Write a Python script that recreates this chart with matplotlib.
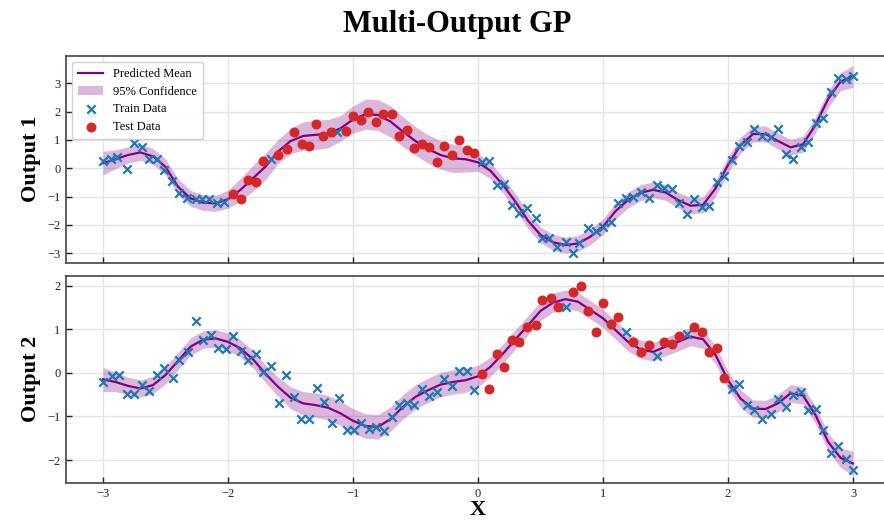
import numpy as np
import matplotlib
matplotlib.use("Agg")
import matplotlib.pyplot as plt

plt.rcParams['font.family'] = ['Liberation Serif', 'DejaVu Serif']

# grid used for the predicted mean / band (every 0.1)
x_grid = np.round(np.arange(-3.0, 3.0001, 0.1), 2)

mean_1 = [0.18, 0.32, 0.47, 0.56, 0.42, 0.05, -0.65, -1.06, -1.21, -1.24,
          -1.09, -0.76, -0.35, 0.06, 0.59, 0.96, 1.14, 1.18, 1.22, 1.41,
          1.72, 1.91, 1.88, 1.65, 1.29, 0.96, 0.68, 0.47, 0.35, 0.32,
          0.21, -0.09, -0.59, -1.18, -1.85, -2.35, -2.61, -2.71, -2.65, -2.41,
          -2.06, -1.51, -1.12, -0.86, -0.76, -0.85, -1.12, -1.32, -1.29, -0.71,
          0.12, 0.82, 1.21, 1.21, 0.96, 0.74, 0.85, 1.53, 2.44, 3.06,
          3.24]
band_1 = [0.42, 0.33, 0.29, 0.28, 0.28, 0.28, 0.28, 0.28, 0.28, 0.28,
          0.32, 0.40, 0.46, 0.47, 0.42, 0.45, 0.50, 0.52, 0.50, 0.45,
          0.48, 0.53, 0.55, 0.55, 0.53, 0.50, 0.50, 0.50, 0.50, 0.45,
          0.32, 0.28, 0.28, 0.28, 0.28, 0.28, 0.28, 0.28, 0.28, 0.28,
          0.28, 0.28, 0.28, 0.28, 0.28, 0.28, 0.28, 0.28, 0.28, 0.28,
          0.28, 0.28, 0.28, 0.28, 0.28, 0.28, 0.28, 0.28, 0.30, 0.32,
          0.38]

mean_2 = [-0.15, -0.21, -0.30, -0.36, -0.28, -0.05, 0.27, 0.60, 0.76, 0.79,
          0.71, 0.56, 0.31, -0.02, -0.32, -0.57, -0.70, -0.74, -0.80, -0.93,
          -1.10, -1.22, -1.24, -1.06, -0.78, -0.55, -0.40, -0.27, -0.21, -0.17,
          -0.08, 0.14, 0.44, 0.77, 1.09, 1.42, 1.61, 1.69, 1.63, 1.44,
          1.25, 0.98, 0.71, 0.54, 0.48, 0.60, 0.71, 0.83, 0.77, 0.41,
          -0.17, -0.59, -0.82, -0.83, -0.70, -0.47, -0.52, -0.97, -1.58, -1.95,
          -2.08]
band_2 = [0.28, 0.22, 0.20, 0.20, 0.20, 0.20, 0.20, 0.20, 0.20, 0.20,
          0.20, 0.20, 0.20, 0.20, 0.22, 0.25, 0.27, 0.28, 0.28, 0.28,
          0.28, 0.28, 0.28, 0.28, 0.28, 0.28, 0.28, 0.28, 0.28, 0.28,
          0.25, 0.22, 0.22, 0.22, 0.22, 0.22, 0.22, 0.21, 0.21, 0.21,
          0.21, 0.21, 0.21, 0.21, 0.21, 0.21, 0.21, 0.21, 0.21, 0.21,
          0.20, 0.20, 0.20, 0.20, 0.20, 0.20, 0.20, 0.20, 0.20, 0.22,
          0.28]

# Output 1 observations
train_x1 = [-3.0, -2.94, -2.89, -2.81, -2.75, -2.69, -2.63, -2.57, -2.51, -2.45,
            -2.39, -2.33, -2.26, -2.21, -2.15, -2.09, -2.03, -1.66, -1.13,
            0.03, 0.09, 0.15, 0.21, 0.27, 0.33, 0.39, 0.46, 0.51, 0.57,
            0.63, 0.70, 0.76, 0.81, 0.88, 0.94, 1.0, 1.06, 1.12, 1.18,
            1.24, 1.30, 1.37, 1.43, 1.49, 1.55, 1.61, 1.67, 1.73, 1.79,
            1.85, 1.91, 1.97, 2.03, 2.09, 2.15, 2.21, 2.27, 2.34, 2.40,
            2.46, 2.52, 2.58, 2.64, 2.70, 2.76, 2.82, 2.88, 2.94, 3.0]
train_y1 = [0.24, 0.33, 0.40, -0.04, 0.88, 0.74, 0.33, 0.33, -0.06, -0.45,
            -0.88, -1.06, -1.09, -1.09, -1.09, -1.21, -1.18, 0.32, 1.27,
            0.21, 0.25, -0.59, -0.56, -1.29, -1.56, -1.39, -1.74, -2.47, -2.47,
            -2.79, -2.61, -3.0, -2.62, -2.09, -2.21, -2.06, -1.88, -1.21, -1.04,
            -1.0, -0.82, -1.06, -0.59, -0.68, -0.73, -1.24, -1.62, -1.09, -1.35,
            -1.33, -0.49, -0.27, 0.29, 0.80, 0.92, 1.39, 1.14, 1.12, 1.39,
            0.51, 0.32, 0.76, 0.92, 1.61, 1.76, 2.68, 3.2, 3.14, 3.27]
test_x1 = [-1.96, -1.90, -1.84, -1.78, -1.72, -1.60, -1.53, -1.47, -1.41, -1.35,
           -1.30, -1.24, -1.18, -1.06, -1.0, -0.94, -0.88, -0.82, -0.76, -0.69,
           -0.63, -0.57, -0.51, -0.45, -0.39, -0.33, -0.27, -0.21, -0.15, -0.09,
           -0.03]
test_y1 = [-0.92, -1.09, -0.41, -0.47, 0.26, 0.47, 0.67, 1.27, 0.86, 0.80,
           1.58, 1.15, 1.27, 1.31, 1.85, 1.71, 1.98, 1.62, 1.91, 1.92,
           1.13, 1.35, 0.73, 0.85, 0.76, 0.22, 0.79, 0.46, 1.0, 0.64,
           0.55]

# Output 2 observations
train_x2 = [-3.0, -2.93, -2.87, -2.81, -2.75, -2.69, -2.63, -2.57, -2.51, -2.44,
            -2.39, -2.32, -2.26, -2.20, -2.14, -2.08, -2.02, -1.96, -1.90, -1.84,
            -1.78, -1.72, -1.66, -1.59, -1.54, -1.47, -1.42, -1.35, -1.29, -1.23,
            -1.17, -1.11, -1.05, -0.99, -0.94, -0.87, -0.82, -0.75, -0.69, -0.63,
            -0.57, -0.51, -0.45, -0.39, -0.33, -0.27, -0.21, -0.15, -0.09, -0.03,
            0.70, 1.18, 1.43, 1.67,
            2.03, 2.09, 2.15, 2.21, 2.27, 2.34, 2.40, 2.46, 2.52, 2.58,
            2.64, 2.70, 2.76, 2.82, 2.88, 2.94, 3.0]
train_y2 = [-0.21, -0.07, -0.04, -0.49, -0.49, -0.27, -0.41, -0.05, 0.12, -0.13,
            0.29, 0.48, 1.19, 0.75, 0.86, 0.56, 0.54, 0.84, 0.50, 0.29,
            0.43, 0.01, 0.16, -0.70, -0.05, -0.55, -1.06, -1.06, -0.34, -0.68,
            -1.16, -0.57, -1.32, -1.32, -1.16, -1.29, -1.25, -1.33, -1.01, -0.74,
            -0.70, -0.74, -0.36, -0.54, -0.44, -0.15, -0.31, 0.04, 0.05, -0.40,
            1.51, 0.93, 0.38, 0.88,
            -0.38, -0.26, -0.74, -0.86, -1.07, -0.95, -0.59, -0.78, -0.51, -0.45,
            -0.86, -0.84, -1.32, -1.83, -1.67, -1.97, -2.23]
test_x2 = [0.03, 0.09, 0.15, 0.21, 0.27, 0.33, 0.39, 0.46, 0.51, 0.58,
           0.64, 0.76, 0.82, 0.88, 0.94, 1.0, 1.06, 1.12, 1.24, 1.30,
           1.37, 1.49, 1.55, 1.61, 1.73, 1.79, 1.85, 1.91, 1.97]
test_y2 = [-0.02, -0.36, 0.44, 0.14, 0.75, 0.71, 1.06, 1.09, 1.67, 1.72,
           1.50, 1.86, 2.0, 1.41, 0.93, 1.61, 1.11, 1.27, 0.71, 0.48,
           0.63, 0.70, 0.67, 0.84, 1.04, 0.93, 0.48, 0.57, -0.13]

panels = [
    ("Output 1", mean_1, band_1, train_x1, train_y1, test_x1, test_y1, (-3.33, 3.97), [-3, -2, -1, 0, 1, 2, 3]),
    ("Output 2", mean_2, band_2, train_x2, train_y2, test_x2, test_y2, (-2.52, 2.22), [-2, -1, 0, 1, 2]),
]

fig = plt.figure(figsize=(8.84, 5.2), dpi=100)
# right edge of the axes runs past the figure edge, like the reference
ax1 = fig.add_axes([0.0741, 0.4948, 0.9333, 0.398])
ax2 = fig.add_axes([0.0741, 0.0717, 0.9333, 0.3975])

for ax, (label, mean, band, trx, tr_y, tex, te_y, ylim, yticks) in zip([ax1, ax2], panels):
    mean = np.array(mean)
    band = np.array(band)
    ax.fill_between(x_grid, mean - band, mean + band, color='purple', alpha=0.28,
                    linewidth=0, label='95% Confidence', zorder=2)
    ax.plot(x_grid, mean, color='purple', lw=1.6, label='Predicted Mean', zorder=3)
    ax.scatter(trx, tr_y, marker='x', color='tab:blue', s=36, linewidths=1.6,
               label='Train Data', zorder=4)
    ax.scatter(tex, te_y, marker='o', color='tab:red', s=38, label='Test Data', zorder=5)

    ax.set_xlim(-3.3, 3.3)
    ax.set_ylim(*ylim)
    ax.set_xticks([-3, -2, -1, 0, 1, 2, 3])
    ax.set_yticks(yticks)
    ax.grid(True, color='#e4e4e4', lw=1.0)
    ax.set_axisbelow(True)
    ax.tick_params(direction='in', length=4, width=1, labelsize=9, colors='#222222')
    for s in ax.spines.values():
        s.set_color('#444444')
        s.set_linewidth(1.2)
    ax.set_ylabel(label, fontsize=16, fontweight='bold')
    ax.yaxis.set_label_coords(-0.03, 0.5)

ax1.tick_params(labelbottom=False)

handles, labels = ax1.get_legend_handles_labels()
order = [labels.index(n) for n in ['Predicted Mean', '95% Confidence', 'Train Data', 'Test Data']]
ax1.legend([handles[i] for i in order], [labels[i] for i in order], loc='upper left',
           fontsize=9, framealpha=0.9, edgecolor='#cccccc', borderpad=0.5,
           handlelength=2.0, labelspacing=0.45)

ax2.set_xlabel('X', fontsize=16, fontweight='bold')
ax2.xaxis.set_label_coords(0.5, -0.085)

fig.text(0.517, 1 - 32 / 520, 'Multi-Output GP', ha='center', va='baseline',
         fontsize=22, fontweight='bold')

fig.savefig('out.png', dpi=100)
